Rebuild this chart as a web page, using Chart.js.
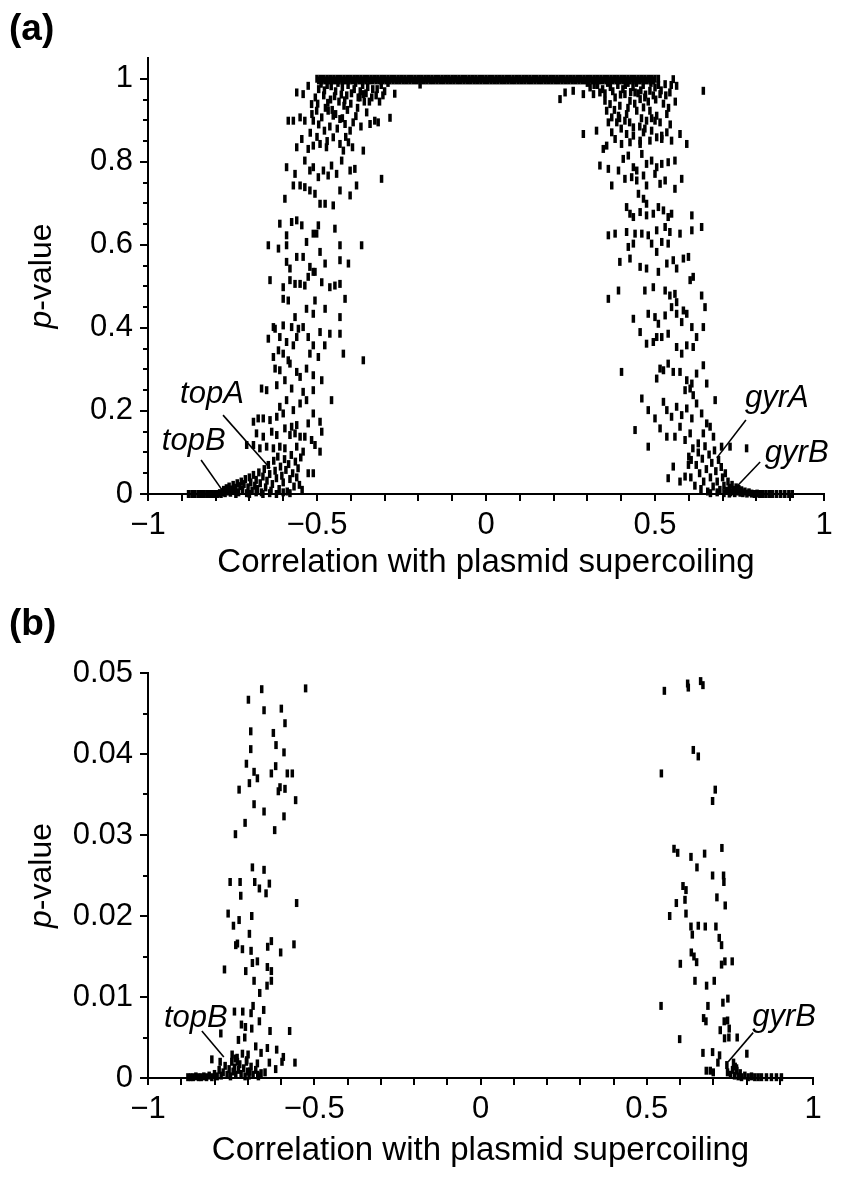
<!DOCTYPE html>
<html>
<head>
<meta charset="utf-8">
<script src="https://cdn.jsdelivr.net/npm/chart.js@4.4.1/dist/chart.umd.min.js"></script>
<style>
  body { margin: 0; background: #fff; }
  .panel { position: absolute; left: 0; width: 861px; }
  #wrapA { top: 0; height: 595px; }
  #wrapB { top: 595px; height: 602px; }
</style>
</head>
<body>
<div class="panel" id="wrapA"><canvas id="chartA" width="861" height="595"></canvas></div>
<div class="panel" id="wrapB"><canvas id="chartB" width="861" height="602"></canvas></div>
<script>
// ---- data ----
// x = correlation with plasmid supercoiling, y = p-value

// genes with p ~ 1 (the flat top band of panel a)
const plateauX = [-0.50,-0.49,-0.48,-0.47,-0.46,-0.45,-0.44,-0.43,-0.42,-0.41,-0.40,-0.39,-0.38,-0.37,-0.36,-0.35,-0.34,-0.33,-0.32,-0.31,-0.30,-0.29,-0.28,-0.27,-0.26,-0.25,-0.24,-0.23,-0.22,-0.21,-0.20,-0.19,-0.18,-0.17,-0.16,-0.15,-0.14,-0.13,-0.12,-0.11,-0.10,-0.09,-0.08,-0.07,-0.06,-0.05,-0.04,-0.03,-0.02,-0.01,0,0.01,0.02,0.03,0.04,0.05,0.06,0.07,0.08,0.09,0.10,0.11,0.12,0.13,0.14,0.15,0.16,0.17,0.18,0.19,0.20,0.21,0.22,0.23,0.24,0.25,0.26,0.27,0.28,0.29,0.30,0.31,0.32,0.33,0.34,0.35,0.36,0.37,0.38,0.39,0.40,0.41,0.42,0.43,0.44,0.45,0.46,0.47,0.48,0.49,0.50,0.51];
const plateauP = 1.0;
const plateauX2 = [-0.495,-0.485,-0.475,-0.465,-0.455,-0.445,-0.435,-0.425,-0.415,-0.405,-0.395,-0.385,-0.375,-0.365,-0.355,-0.345,-0.335,-0.325,-0.315,-0.305,-0.295,-0.285,-0.275,-0.265,-0.255,-0.245,-0.235,-0.225,-0.215,-0.205,-0.195,-0.185,-0.175,-0.165,-0.155,-0.145,-0.135,-0.125,-0.115,-0.105,-0.095,-0.085,-0.075,-0.065,-0.055,-0.045,-0.035,-0.025,-0.015,-0.005,0.005,0.015,0.025,0.035,0.045,0.055,0.065,0.075,0.085,0.095,0.105,0.115,0.125,0.135,0.145,0.155,0.165,0.175,0.185,0.195,0.205,0.215,0.225,0.235,0.245,0.255,0.265,0.275,0.285,0.295,0.305,0.315,0.325,0.335,0.345,0.355,0.365,0.375,0.385,0.395,0.405,0.415,0.425,0.435,0.445,0.455,0.465,0.475,0.485,0.495];
const plateauP2 = 0.996;

// negatively correlated genes, panel a
const negA = [
  [-0.560,0.967],[-0.541,0.963],[-0.526,0.983],[-0.516,0.939],[-0.585,0.899],[-0.570,0.899],[-0.550,0.907],[-0.536,0.899],
  [-0.511,0.899],[-0.501,0.923],[-0.486,0.907],[-0.467,0.923],[-0.452,0.911],[-0.432,0.903],[-0.417,0.891],[-0.402,0.875],
  [-0.393,0.895],[-0.373,0.955],[-0.343,0.891],[-0.329,0.899],[-0.319,0.895],[-0.353,0.919],[-0.363,0.963],
  [-0.495,0.975],[-0.480,0.960],[-0.470,0.985],[-0.460,0.950],[-0.445,0.970],[-0.435,0.945],[-0.425,0.980],[-0.412,0.960],
  [-0.400,0.940],[-0.390,0.975],[-0.378,0.955],[-0.365,0.985],[-0.355,0.965],[-0.345,0.945],[-0.335,0.975],[-0.325,0.960],
  [-0.310,0.985],[-0.300,0.970],[-0.290,0.990],[-0.475,0.930],[-0.455,0.925],[-0.420,0.935],[-0.380,0.930],[-0.270,0.964],
  [-0.195,0.986],[-0.284,0.906],
  [-0.505,0.955],[-0.498,0.940],[-0.488,0.988],[-0.478,0.972],[-0.468,0.942],[-0.458,0.982],[-0.448,0.958],[-0.438,0.990],
  [-0.428,0.962],[-0.418,0.948],[-0.408,0.985],[-0.398,0.965],[-0.386,0.990],[-0.372,0.970],[-0.360,0.945],[-0.350,0.980],
  [-0.338,0.955],[-0.322,0.975],[-0.315,0.945],[-0.305,0.960],[-0.515,0.915],[-0.495,0.890],[-0.478,0.875],[-0.462,0.885],
  [-0.445,0.915],[-0.425,0.905],[-0.410,0.925],[-0.385,0.910],[-0.370,0.885],[-0.520,0.870],[-0.500,0.860],[-0.470,0.850],
  [-0.440,0.880],[-0.415,0.860],[-0.395,0.835],
  [-0.560,0.835],[-0.545,0.855],[-0.526,0.831],[-0.511,0.839],[-0.491,0.843],[-0.472,0.835],[-0.452,0.859],[-0.432,0.843],
  [-0.422,0.827],[-0.407,0.847],[-0.363,0.827],
  [-0.590,0.787],[-0.565,0.771],[-0.536,0.803],[-0.521,0.779],[-0.511,0.787],[-0.496,0.763],[-0.481,0.779],[-0.467,0.767],
  [-0.457,0.791],[-0.442,0.771],[-0.427,0.803],[-0.402,0.779],[-0.388,0.783],[-0.309,0.759],
  [-0.595,0.711],[-0.570,0.743],[-0.550,0.743],[-0.536,0.739],[-0.521,0.731],[-0.506,0.723],[-0.491,0.699],[-0.476,0.699],
  [-0.452,0.695],[-0.432,0.731],[-0.402,0.719],[-0.383,0.743],
  [-0.610,0.651],[-0.590,0.623],[-0.575,0.655],[-0.560,0.659],[-0.545,0.647],[-0.531,0.607],[-0.511,0.627],[-0.496,0.647],
  [-0.447,0.639],[-0.432,0.599],[-0.368,0.599],[-0.644,0.599],[-0.614,0.591],[-0.590,0.599],[-0.501,0.627],
  [-0.590,0.559],[-0.580,0.543],[-0.560,0.571],[-0.541,0.571],[-0.521,0.547],[-0.506,0.535],[-0.491,0.583],[-0.476,0.555],
  [-0.432,0.563],[-0.407,0.555],[-0.639,0.515],[-0.600,0.498],[-0.580,0.515],[-0.565,0.506],[-0.550,0.506],[-0.536,0.502],
  [-0.526,0.523],[-0.511,0.535],[-0.486,0.510],[-0.462,0.498],[-0.447,0.502],[-0.432,0.506],
  [-0.600,0.470],[-0.585,0.466],[-0.565,0.426],[-0.531,0.446],[-0.511,0.434],[-0.506,0.466],[-0.476,0.446],[-0.417,0.470],
  [-0.432,0.426],[-0.629,0.402],[-0.600,0.406],[-0.575,0.402],[-0.555,0.398],[-0.541,0.402],
  [-0.644,0.374],[-0.624,0.398],[-0.610,0.378],[-0.590,0.366],[-0.570,0.358],[-0.560,0.378],[-0.526,0.378],[-0.511,0.358],
  [-0.491,0.390],[-0.477,0.358],[-0.462,0.386],[-0.432,0.386],[-0.422,0.338],[-0.614,0.346],[-0.600,0.338],[-0.629,0.330],
  [-0.585,0.322],[-0.521,0.338],[-0.496,0.330],
  [-0.624,0.302],[-0.610,0.298],[-0.580,0.314],[-0.560,0.294],[-0.550,0.282],[-0.531,0.302],[-0.511,0.286],[-0.486,0.274],
  [-0.595,0.274],[-0.575,0.254],[-0.664,0.254],[-0.649,0.250],[-0.619,0.262],[-0.541,0.246],[-0.511,0.250],[-0.363,0.322],
  [-0.610,0.210],[-0.590,0.226],[-0.570,0.202],[-0.550,0.218],[-0.531,0.226],[-0.511,0.194],[-0.457,0.226],
  [-0.688,0.174],[-0.674,0.182],[-0.659,0.182],[-0.639,0.178],[-0.619,0.186],[-0.600,0.194],[-0.575,0.162],[-0.560,0.166],
  [-0.526,0.170],[-0.491,0.174],[-0.679,0.146],[-0.659,0.138],[-0.634,0.150],[-0.619,0.142],[-0.595,0.158],[-0.580,0.142],
  [-0.565,0.146],[-0.550,0.138],[-0.536,0.138],[-0.516,0.130],[-0.506,0.118],[-0.486,0.150],
  [-0.708,0.118],[-0.688,0.118],[-0.669,0.110],[-0.649,0.114],[-0.629,0.110],[-0.610,0.114],[-0.595,0.110],[-0.560,0.114],
  [-0.541,0.102],[-0.491,0.102],[-0.526,0.050],[-0.511,0.050],
  [-0.780,0.004],[-0.776,0.010],[-0.772,0.002],[-0.768,0.014],[-0.764,0.006],[-0.760,0.018],[-0.756,0.003],[-0.752,0.011],
  [-0.748,0.022],[-0.744,0.007],[-0.740,0.015],[-0.736,0.026],[-0.732,0.004],[-0.728,0.019],[-0.724,0.030],[-0.720,0.010],
  [-0.716,0.024],[-0.712,0.036],[-0.708,0.002],[-0.704,0.016],[-0.700,0.040],[-0.696,0.028],[-0.692,0.008],[-0.688,0.046],
  [-0.684,0.020],[-0.680,0.034],[-0.676,0.012],[-0.672,0.052],[-0.668,0.026],[-0.664,0.004],[-0.660,0.042],[-0.656,0.060],
  [-0.652,0.016],[-0.648,0.032],[-0.644,0.070],[-0.640,0.048],[-0.636,0.008],[-0.632,0.024],[-0.628,0.080],[-0.624,0.056],
  [-0.620,0.038],[-0.616,0.090],[-0.612,0.012],[-0.608,0.066],[-0.604,0.044],[-0.600,0.028],[-0.596,0.084],[-0.592,0.058],
  [-0.588,0.006],[-0.584,0.072],[-0.580,0.036],[-0.576,0.094],[-0.572,0.050],[-0.568,0.018],[-0.564,0.078],[-0.560,0.040],
  [-0.556,0.062],[-0.552,0.022],[-0.548,0.088],[-0.544,0.010],[-0.620,0.000],[-0.660,0.000],[-0.700,0.000],[-0.740,0.000],
  [-0.600,0.004],[-0.580,0.002],[-0.640,0.002],[-0.680,0.004],
  [-0.880,0.000],[-0.870,0.000],[-0.862,0.000],[-0.852,0.000],[-0.845,0.000],[-0.835,0.000],[-0.826,0.000],[-0.818,0.000],
  [-0.810,0.000],[-0.802,0.000],[-0.795,0.000],[-0.788,0.002],[-0.784,0.000]
];

// positively correlated genes, panel a
const posA = [
  [0.219,0.951],[0.234,0.967],[0.258,0.971],[0.288,0.963],[0.308,0.979],[0.318,0.963],[0.337,0.967],[0.352,0.947],
  [0.367,0.939],[0.382,0.955],[0.396,0.935],[0.411,0.963],[0.426,0.947],[0.441,0.967],[0.456,0.951],[0.470,0.955],
  [0.485,0.971],[0.500,0.979],[0.515,0.963],[0.530,0.987],[0.544,0.967],[0.554,0.999],[0.564,0.983],[0.643,0.971],
  [0.357,0.923],[0.372,0.907],[0.392,0.911],[0.416,0.915],[0.446,0.923],[0.466,0.931],[0.485,0.923],[0.505,0.911],
  [0.362,0.895],[0.387,0.895],[0.411,0.899],[0.436,0.883],[0.475,0.899],[0.500,0.899],[0.535,0.915],
  [0.300,0.990],[0.320,0.985],[0.345,0.975],[0.360,0.990],[0.375,0.970],[0.390,0.985],[0.405,0.975],[0.420,0.990],
  [0.435,0.980],[0.450,0.965],[0.465,0.985],[0.480,0.945],[0.495,0.960],[0.510,0.985],[0.525,0.940],[0.540,0.930],
  [0.420,0.930],[0.440,0.940],[0.380,0.925],[0.460,0.905],
  [0.330,0.985],[0.352,0.965],[0.368,0.980],[0.398,0.962],[0.412,0.985],[0.428,0.968],[0.445,0.990],[0.458,0.972],
  [0.472,0.962],[0.488,0.990],[0.502,0.950],[0.518,0.972],[0.532,0.960],[0.548,0.985],[0.395,0.905],[0.425,0.895],
  [0.455,0.885],[0.490,0.905],[0.515,0.895],[0.470,0.880],[0.400,0.880],[0.545,0.890],[0.560,0.945],
  [0.288,0.867],[0.327,0.875],[0.372,0.871],[0.382,0.855],[0.416,0.867],[0.436,0.863],[0.456,0.851],[0.466,0.871],
  [0.490,0.875],[0.505,0.859],[0.520,0.863],[0.535,0.871],[0.549,0.851],[0.574,0.867],[0.594,0.843],[0.347,0.831],
  [0.357,0.839],[0.401,0.843],[0.426,0.847],[0.456,0.843],[0.485,0.851],[0.520,0.855],
  [0.337,0.791],[0.362,0.783],[0.392,0.779],[0.406,0.807],[0.421,0.815],[0.436,0.787],[0.446,0.779],[0.461,0.819],
  [0.475,0.795],[0.490,0.803],[0.505,0.787],[0.520,0.795],[0.539,0.799],[0.559,0.803],[0.372,0.743],[0.411,0.759],
  [0.431,0.763],[0.446,0.755],[0.466,0.767],[0.475,0.743],[0.500,0.771],[0.515,0.747],[0.530,0.755],[0.559,0.735],
  [0.579,0.759],
  [0.451,0.723],[0.466,0.711],[0.475,0.699],[0.416,0.691],[0.426,0.675],[0.436,0.667],[0.456,0.679],[0.475,0.671],
  [0.495,0.675],[0.510,0.691],[0.525,0.683],[0.539,0.667],[0.549,0.675],[0.609,0.671],
  [0.362,0.623],[0.382,0.627],[0.416,0.631],[0.441,0.627],[0.461,0.627],[0.480,0.623],[0.505,0.635],[0.530,0.643],
  [0.544,0.631],[0.574,0.627],[0.609,0.635],[0.638,0.643],[0.421,0.595],[0.436,0.603],[0.490,0.603],[0.505,0.583],
  [0.520,0.607],[0.539,0.603],[0.554,0.563],[0.584,0.567],[0.599,0.571],
  [0.396,0.559],[0.426,0.567],[0.456,0.547],[0.475,0.543],[0.510,0.535],[0.535,0.555],[0.564,0.543],[0.604,0.515],
  [0.613,0.523],[0.392,0.490],[0.362,0.470],[0.470,0.490],[0.495,0.498],[0.530,0.490],[0.544,0.478],[0.559,0.482],
  [0.549,0.450],[0.564,0.462],[0.584,0.442],[0.564,0.434],[0.594,0.434],[0.638,0.478],[0.648,0.450],[0.436,0.422],
  [0.480,0.434],[0.500,0.426],[0.510,0.410],[0.530,0.430],[0.579,0.414],[0.609,0.402],[0.643,0.402],[0.456,0.390],
  [0.475,0.362],[0.495,0.366],[0.505,0.378],[0.520,0.378],[0.539,0.386],[0.564,0.354],[0.579,0.338],[0.594,0.358],
  [0.613,0.354],[0.623,0.378],
  [0.401,0.294],[0.505,0.278],[0.515,0.302],[0.525,0.298],[0.539,0.314],[0.554,0.294],[0.574,0.294],[0.594,0.274],
  [0.609,0.266],[0.623,0.290],[0.643,0.310],[0.653,0.266],[0.589,0.250],[0.604,0.254],[0.613,0.238],
  [0.461,0.230],[0.480,0.202],[0.500,0.182],[0.525,0.222],[0.535,0.202],[0.549,0.186],[0.564,0.210],[0.579,0.190],
  [0.594,0.206],[0.609,0.182],[0.623,0.218],[0.638,0.194],[0.653,0.170],[0.678,0.226],[0.441,0.154],[0.480,0.114],
  [0.515,0.158],[0.535,0.138],[0.559,0.138],[0.574,0.162],[0.589,0.130],[0.604,0.146],[0.628,0.122],[0.643,0.146],
  [0.663,0.162],[0.673,0.138],[0.697,0.114],[0.722,0.114],[0.771,0.110],
  [0.539,0.038],[0.554,0.066],[0.574,0.030],[0.589,0.042],[0.599,0.070],[0.607,0.082],
  [0.600,0.090],[0.606,0.040],[0.612,0.110],[0.618,0.020],[0.622,0.070],[0.628,0.100],[0.632,0.050],[0.636,0.012],
  [0.640,0.085],[0.644,0.030],[0.648,0.115],[0.652,0.060],[0.656,0.006],[0.660,0.095],[0.664,0.040],[0.668,0.075],
  [0.672,0.018],[0.676,0.105],[0.680,0.055],[0.684,0.030],[0.688,0.082],[0.692,0.010],[0.696,0.065],[0.700,0.040],
  [0.704,0.020],[0.708,0.050],[0.712,0.008],[0.716,0.030],[0.720,0.015],[0.724,0.004],[0.728,0.022],[0.732,0.010],
  [0.736,0.002],[0.740,0.016],[0.744,0.006],[0.748,0.012],[0.752,0.003],[0.756,0.009],[0.760,0.002],[0.766,0.006],
  [0.772,0.001],[0.778,0.004],[0.664,0.002],[0.684,0.004],[0.704,0.002],[0.720,0.001],
  [0.786,0.001],[0.794,0.000],[0.802,0.001],[0.810,0.000],[0.818,0.000],[0.828,0.000],[0.838,0.000],[0.848,0.000],
  [0.860,0.000],[0.872,0.000],[0.884,0.000],[0.896,0.000],[0.906,0.000]
];

// significant genes only (p < 0.05), panel b
const negB = [
  [-0.658,0.0480],[-0.526,0.0481],[-0.698,0.0467],[-0.651,0.0454],[-0.599,0.0456],[-0.588,0.0438],[-0.691,0.0428],
  [-0.623,0.0426],[-0.615,0.0411],[-0.691,0.0406],[-0.591,0.0402],[-0.704,0.0388],[-0.681,0.0378],[-0.671,0.0370],
  [-0.695,0.0364],[-0.629,0.0376],[-0.616,0.0385],[-0.581,0.0376],[-0.566,0.0376],[-0.726,0.0356],[-0.603,0.0359],
  [-0.608,0.0354],[-0.588,0.0357],[-0.556,0.0343],[-0.681,0.0338],[-0.651,0.0329],[-0.591,0.0323],[-0.708,0.0315],
  [-0.619,0.0306],[-0.737,0.0301],[-0.686,0.0260],[-0.651,0.0257],[-0.753,0.0242],[-0.723,0.0242],[-0.721,0.0225],
  [-0.679,0.0242],[-0.665,0.0234],[-0.635,0.0240],[-0.645,0.0228],[-0.553,0.0216],[-0.759,0.0203],[-0.726,0.0195],
  [-0.743,0.0188],[-0.688,0.0200],[-0.695,0.0178],[-0.736,0.0164],[-0.731,0.0166],[-0.716,0.0159],[-0.690,0.0157],
  [-0.640,0.0162],[-0.629,0.0169],[-0.601,0.0155],[-0.561,0.0165],[-0.686,0.0142],[-0.671,0.0144],[-0.770,0.0134],
  [-0.706,0.0132],[-0.641,0.0137],[-0.629,0.0132],[-0.681,0.0120],[-0.629,0.0120],[-0.642,0.0114],[-0.664,0.0105],
  [-0.684,0.0089],[-0.652,0.0084],[-0.740,0.0082],[-0.715,0.0082],[-0.690,0.0080],[-0.719,0.0066],[-0.707,0.0063],
  [-0.665,0.0070],[-0.781,0.0055],[-0.688,0.0061],[-0.633,0.0058],[-0.574,0.0058],[-0.728,0.0047],[-0.709,0.0050],
  [-0.676,0.0039],[-0.641,0.0037],[-0.613,0.0035],[-0.660,0.0031],[-0.699,0.0029],[-0.593,0.0026],[-0.808,0.0023],
  [-0.783,0.0020],[-0.747,0.0029],[-0.738,0.0024],[-0.731,0.0020],[-0.703,0.0022],[-0.671,0.0018],[-0.635,0.0019],
  [-0.616,0.0011],[-0.597,0.0020],[-0.558,0.0019],[-0.648,0.0007],[-0.670,0.0004],[-0.694,0.0008],
  [-0.880,0.0001],[-0.872,0.0001],[-0.864,0.0001],[-0.856,0.0002],[-0.848,0.0001],[-0.840,0.0001],[-0.832,0.0002],
  [-0.824,0.0001],[-0.816,0.0003],[-0.808,0.0001],[-0.800,0.0005],[-0.792,0.0002],[-0.786,0.0010],[-0.780,0.0003],
  [-0.774,0.0007],[-0.768,0.0015],[-0.762,0.0004],[-0.756,0.0011],[-0.752,0.0002],[-0.748,0.0020],[-0.744,0.0008],
  [-0.740,0.0013],[-0.736,0.0004],[-0.732,0.0025],[-0.728,0.0010],[-0.724,0.0017],[-0.720,0.0005],[-0.716,0.0030],
  [-0.712,0.0012],[-0.708,0.0002],[-0.704,0.0020],[-0.700,0.0008],[-0.696,0.0003],[-0.690,0.0014],[-0.684,0.0004],
  [-0.676,0.0010],[-0.668,0.0002],[-0.660,0.0006]
];

const posB = [
  [0.553,0.0478],[0.623,0.0487],[0.625,0.0482],[0.662,0.0490],[0.669,0.0485],[0.640,0.0405],[0.655,0.0397],
  [0.544,0.0376],[0.706,0.0356],[0.698,0.0342],[0.582,0.0283],[0.593,0.0278],[0.633,0.0273],[0.674,0.0277],
  [0.726,0.0284],[0.651,0.0260],[0.698,0.0250],[0.731,0.0250],[0.732,0.0242],[0.609,0.0237],[0.618,0.0232],
  [0.615,0.0220],[0.589,0.0216],[0.711,0.0223],[0.736,0.0213],[0.569,0.0200],[0.618,0.0203],[0.633,0.0187],
  [0.655,0.0188],[0.676,0.0187],[0.708,0.0187],[0.637,0.0177],[0.718,0.0173],[0.725,0.0164],[0.634,0.0155],
  [0.642,0.0150],[0.650,0.0143],[0.601,0.0141],[0.725,0.0140],[0.735,0.0144],[0.757,0.0144],[0.645,0.0120],
  [0.680,0.0114],[0.703,0.0120],[0.543,0.0089],[0.684,0.0089],[0.729,0.0093],[0.744,0.0098],[0.671,0.0074],
  [0.678,0.0070],[0.721,0.0059],[0.733,0.0070],[0.743,0.0071],[0.748,0.0061],[0.734,0.0049],[0.747,0.0050],
  [0.772,0.0050],[0.599,0.0048],[0.669,0.0031],[0.698,0.0032],[0.719,0.0028],[0.714,0.0019],[0.801,0.0030],
  [0.741,0.0016],[0.679,0.0009],[0.691,0.0009],[0.700,0.0007],[0.743,0.0007],[0.761,0.0019],[0.766,0.0014],
  [0.771,0.0009],[0.781,0.0006],
  [0.752,0.0004],[0.758,0.0010],[0.764,0.0003],[0.770,0.0012],[0.775,0.0002],[0.785,0.0001],[0.795,0.0003],
  [0.805,0.0001],[0.815,0.0002],[0.825,0.0001],[0.835,0.0001],[0.845,0.0001],[0.860,0.0001],[0.875,0.0001],
  [0.890,0.0001],[0.905,0.0001]
];

// tick labels
const xLabelled = [-1, -0.5, 0, 0.5, 1];
const yLabelledA = [0, 0.2, 0.4, 0.6, 0.8, 1];
const yLabelledB = [0, 0.01, 0.02, 0.03, 0.04, 0.05];

// gene labels, anchored in data coordinates
const notesA = [
  { label: 'topA', at: [-0.905, 0.219], from: [-0.778, 0.190], to: [-0.639, 0.062] },
  { label: 'topB', at: [-0.959, 0.106], from: [-0.843, 0.082], to: [-0.781, 0.010] },
  { label: 'gyrA', at: [0.766, 0.209], from: [0.769, 0.178], to: [0.683, 0.087] },
  { label: 'gyrB', at: [0.825, 0.077], from: [0.811, 0.077], to: [0.737, 0.014] }
];
const notesB = [
  { label: 'topB', at: [-0.952, 0.0063], from: [-0.838, 0.0058], to: [-0.772, 0.0026] },
  { label: 'gyrB', at: [0.817, 0.0064], from: [0.820, 0.0056], to: [0.745, 0.0020] }
];

// ---- drawing ----
const FONT = '"Liberation Sans", Arial, Helvetica, sans-serif';
const near = (v, list) => list.some(l => Math.abs(l - v) < 1e-6);
const isMult = (v, step) => Math.abs(v / step - Math.round(v / step)) < 1e-6;
const minus = s => s.replace('-', '\u2212');

const panelDecor = {
  id: 'panelDecor',
  afterDraw(chart, args, opts) {
    const ctx = chart.ctx;
    const xs = chart.scales.x, ys = chart.scales.y;
    ctx.save();
    ctx.strokeStyle = '#000';
    ctx.fillStyle = '#000';
    ctx.lineWidth = 2;

    // tick marks (major longer than minor on y)
    ys.ticks.forEach(t => {
      if (t.value > opts.yLast + 1e-9) return;
      const py = Math.round(ys.getPixelForValue(t.value));
      const len = isMult(t.value, opts.yMajor) ? 8 : 5;
      ctx.beginPath();
      ctx.moveTo(xs.left - len, py);
      ctx.lineTo(xs.left, py);
      ctx.stroke();
    });
    xs.ticks.forEach(t => {
      const px = Math.round(xs.getPixelForValue(t.value));
      ctx.beginPath();
      ctx.moveTo(px, ys.bottom);
      ctx.lineTo(px, ys.bottom + 7);
      ctx.stroke();
    });

    // panel letter
    ctx.font = 'bold 37px ' + FONT;
    ctx.textAlign = 'left';
    ctx.textBaseline = 'alphabetic';
    ctx.fillText(opts.letter, 9, opts.letterY);

    // y title with italic p
    ctx.save();
    ctx.translate(42, (ys.top + ys.bottom) / 2);
    ctx.rotate(-Math.PI / 2);
    ctx.textBaseline = 'middle';
    ctx.font = 'italic 32px ' + FONT;
    const w1 = ctx.measureText('p').width;
    ctx.font = '32px ' + FONT;
    const w2 = ctx.measureText('-value').width;
    const sx = -(w1 + w2) / 2;
    ctx.font = 'italic 32px ' + FONT;
    ctx.fillText('p', sx, 0);
    ctx.font = '32px ' + FONT;
    ctx.fillText('-value', sx + w1, 0);
    ctx.restore();

    // gene labels with leader lines
    ctx.font = 'italic 31px ' + FONT;
    ctx.lineWidth = 1.6;
    opts.notes.forEach(n => {
      ctx.fillText(n.label, xs.getPixelForValue(n.at[0]), ys.getPixelForValue(n.at[1]));
      ctx.beginPath();
      ctx.moveTo(xs.getPixelForValue(n.from[0]), ys.getPixelForValue(n.from[1]));
      ctx.lineTo(xs.getPixelForValue(n.to[0]), ys.getPixelForValue(n.to[1]));
      ctx.stroke();
    });
    ctx.restore();
  }
};

const toPts = arr => arr.map(([x, y]) => ({ x, y }));

function buildPanel(canvasId, datasets, o) {
  return new Chart(document.getElementById(canvasId), {
    type: 'scatter',
    data: {
      datasets: datasets.map(d => ({ data: d, clip: false }))
    },
    options: {
      responsive: false,
      animation: false,
      events: [],
      layout: { padding: { top: o.padTop, right: o.padRight, left: 0, bottom: 0 } },
      elements: {
        point: {
          pointStyle: 'line', rotation: 90, radius: 4, hoverRadius: 4,
          borderWidth: 3.5, hoverBorderWidth: 3.5, borderColor: '#000', backgroundColor: '#000'
        }
      },
      plugins: {
        legend: { display: false },
        tooltip: { enabled: false },
        panelDecor: { letter: o.letter, letterY: o.letterY, yMajor: o.yMajor, yLast: o.yLast, notes: o.notes }
      },
      scales: {
        x: {
          type: 'linear', min: -1, max: 1,
          grid: { display: false, drawTicks: false },
          border: { display: true, color: '#000', width: 2 },
          ticks: {
            stepSize: 0.1, autoSkip: false, maxRotation: 0, padding: 13, color: '#000',
            font: { family: FONT, size: 31 },
            callback: v => near(v, xLabelled) ? minus(String(Math.round(v * 10) / 10)) : ''
          },
          title: {
            display: true, text: 'Correlation with plasmid supercoiling', color: '#000',
            font: { family: FONT, size: 33 }, padding: { top: 0, bottom: o.titlePad }
          },
          afterFit: s => { s.height = o.xHeight; }
        },
        y: {
          type: 'linear', min: 0, max: o.yMax,
          grid: { display: false, drawTicks: false },
          border: { display: true, color: '#000', width: 2 },
          ticks: {
            stepSize: o.yStep, autoSkip: false, padding: 15, color: '#000',
            font: { family: FONT, size: 31 },
            callback: v => near(v, o.yLabelled) ? String(Math.round(v * 1000) / 1000) : ''
          },
          afterFit: s => { s.width = 148; }
        }
      }
    },
    plugins: [panelDecor]
  });
}

buildPanel('chartA', [
  plateauX.map(x => ({ x, y: plateauP })),
  plateauX2.map(x => ({ x, y: plateauP2 })),
  toPts(negA),
  toPts(posA)
], {
  letter: '(a)', letterY: 40, padTop: 58, padRight: 37, xHeight: 101, titlePad: 12,
  yMax: 1.05, yStep: 0.05, yMajor: 0.2, yLast: 1, yLabelled: yLabelledA, notes: notesA
});

buildPanel('chartB', [
  toPts(negB),
  toPts(posB)
], {
  letter: '(b)', letterY: 40, padTop: 78, padRight: 48, xHeight: 119, titlePad: 26,
  yMax: 0.05, yStep: 0.005, yMajor: 0.01, yLast: 0.05, yLabelled: yLabelledB, notes: notesB
});
</script>
</body>
</html>
